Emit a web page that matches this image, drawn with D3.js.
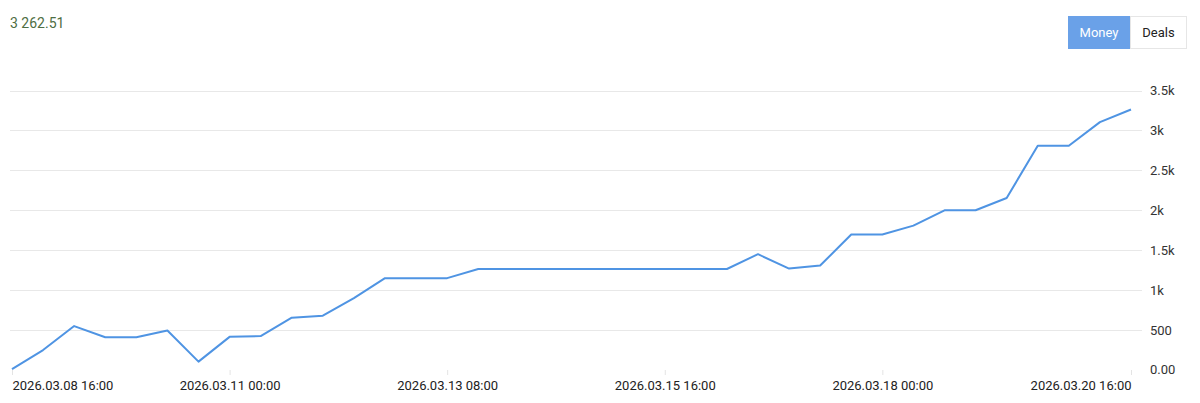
<!DOCTYPE html>
<html>
<head>
<meta charset="utf-8">
<script src="https://cdn.jsdelivr.net/npm/d3@7/dist/d3.min.js"></script>
<style>
  body { margin: 0; background: #fff; }
  svg { display: block; font-family: Roboto, "Noto Sans", sans-serif; }
</style>
</head>
<body>
<div id="vis"></div>
<script>
var width = 1200,
    height = 403;

// balance points, every 8 hours
var times = [
  "2026-03-08 16:00", "2026-03-09 00:00", "2026-03-09 08:00", "2026-03-09 16:00",
  "2026-03-10 00:00", "2026-03-10 08:00", "2026-03-10 16:00", "2026-03-11 00:00",
  "2026-03-11 08:00", "2026-03-11 16:00", "2026-03-12 00:00", "2026-03-12 08:00",
  "2026-03-12 16:00", "2026-03-13 00:00", "2026-03-13 08:00", "2026-03-13 16:00",
  "2026-03-14 00:00", "2026-03-14 08:00", "2026-03-14 16:00", "2026-03-15 00:00",
  "2026-03-15 08:00", "2026-03-15 16:00", "2026-03-16 00:00", "2026-03-16 08:00",
  "2026-03-16 16:00", "2026-03-17 00:00", "2026-03-17 08:00", "2026-03-17 16:00",
  "2026-03-18 00:00", "2026-03-18 08:00", "2026-03-18 16:00", "2026-03-19 00:00",
  "2026-03-19 08:00", "2026-03-19 16:00", "2026-03-20 00:00", "2026-03-20 08:00",
  "2026-03-20 16:00"
];
var money = [
  10, 250, 550, 410, 410, 495, 105, 415,
  425, 655, 680, 900, 1150, 1150, 1150, 1265,
  1265, 1265, 1265, 1265, 1265, 1265, 1265, 1265,
  1450, 1270, 1308, 1696, 1696, 1808, 2000, 2000,
  2154, 2808, 2808, 3104, 3262.51
];

var xTicks = ["2026-03-08 16:00", "2026-03-11 00:00", "2026-03-13 08:00",
              "2026-03-15 16:00", "2026-03-18 00:00", "2026-03-20 16:00"];
var xTickLabels = ["2026.03.08 16:00", "2026.03.11 00:00", "2026.03.13 08:00",
                   "2026.03.15 16:00", "2026.03.18 00:00", "2026.03.20 16:00"];
var yTicks = [0, 500, 1000, 1500, 2000, 2500, 3000, 3500];
var yTickLabels = ["0.00", "500", "1k", "1.5k", "2k", "2.5k", "3k", "3.5k"];

var balanceText = "3 262.51";
var buttons = ["Money", "Deals"];

var parse = d3.timeParse("%Y-%m-%d %H:%M");
var data = times.map(function(t, i) { return { t: parse(t), v: money[i] }; });

var svg = d3.select("#vis").append("svg")
    .attr("width", width)
    .attr("height", height);

var x = d3.scaleTime()
    .domain([parse(times[0]), parse(times[times.length - 1])])
    .range([12, 1131]);

var y = d3.scaleLinear()
    .domain([0, 3500])
    .range([370, 90.5]);

// grid
svg.append("g")
    .selectAll("line")
    .data(yTicks.filter(function(d) { return d > 0; }))
    .enter().append("line")
      .attr("x1", 10)
      .attr("x2", 1142)
      .attr("y1", function(d) { return Math.round(y(d)) + 0.5; })
      .attr("y2", function(d) { return Math.round(y(d)) + 0.5; })
      .attr("stroke", "#e8e8e8")
      .attr("stroke-width", 1);

// y axis on the right
var yAxis = d3.axisRight(y)
    .tickValues(yTicks)
    .tickSize(0)
    .tickPadding(0)
    .tickFormat(function(d, i) { return yTickLabels[i]; });

var gy = svg.append("g")
    .attr("transform", "translate(1150,0)")
    .call(yAxis);
gy.select(".domain").remove();
gy.selectAll("text")
    .attr("fill", "#333")
    .attr("font-size", 13)
    .attr("font-family", "Roboto, sans-serif")
    .attr("dy", "0.32em");
gy.selectAll(".tick").filter(function(d) { return d === 0; })
    .select("text").attr("dy", "0.25em");

// x axis
var xAxis = d3.axisBottom(x)
    .tickValues(xTicks.map(parse))
    .tickSize(5)
    .tickPadding(6)
    .tickFormat(function(d, i) { return xTickLabels[i]; });

var gx = svg.append("g")
    .attr("transform", "translate(0,370)")
    .call(xAxis);
gx.select(".domain").remove();
gx.selectAll(".tick line").attr("stroke", "#e4e4e4");
gx.selectAll("text")
    .attr("fill", "#222")
    .attr("font-size", 13)
    .attr("font-family", "Roboto, sans-serif")
    .attr("text-anchor", function(d, i) {
      return i === 0 ? "start" : (i === xTicks.length - 1 ? "end" : "middle");
    });

// line
var line = d3.line()
    .x(function(d) { return x(d.t); })
    .y(function(d) { return y(d.v); });

svg.append("path")
    .datum(data)
    .attr("fill", "none")
    .attr("stroke", "#4f94e3")
    .attr("stroke-width", 2)
    .attr("stroke-linejoin", "round")
    .attr("d", line);

// balance readout
svg.append("text")
    .attr("x", 10)
    .attr("y", 28)
    .attr("fill", "#4e6e43")
    .attr("font-size", 14)
    .text(balanceText);

// toggle buttons
var btnX = [1068, 1130], btnW = [62, 57];
var btn = svg.append("g").selectAll("g")
    .data(buttons)
    .enter().append("g");

btn.append("rect")
    .attr("x", function(d, i) { return btnX[i] + 0.5; })
    .attr("y", 16.5)
    .attr("width", function(d, i) { return btnW[i] - 1; })
    .attr("height", 32)
    .attr("fill", function(d, i) { return i === 0 ? "#6aa1e8" : "#fff"; })
    .attr("stroke", function(d, i) { return i === 0 ? "#6aa1e8" : "#e6e6e6"; });

btn.append("text")
    .attr("x", function(d, i) { return btnX[i] + btnW[i] / 2; })
    .attr("y", 37)
    .attr("text-anchor", "middle")
    .attr("font-size", 13)
    .attr("fill", function(d, i) { return i === 0 ? "#fff" : "#222"; })
    .text(function(d) { return d; });
</script>
</body>
</html>
